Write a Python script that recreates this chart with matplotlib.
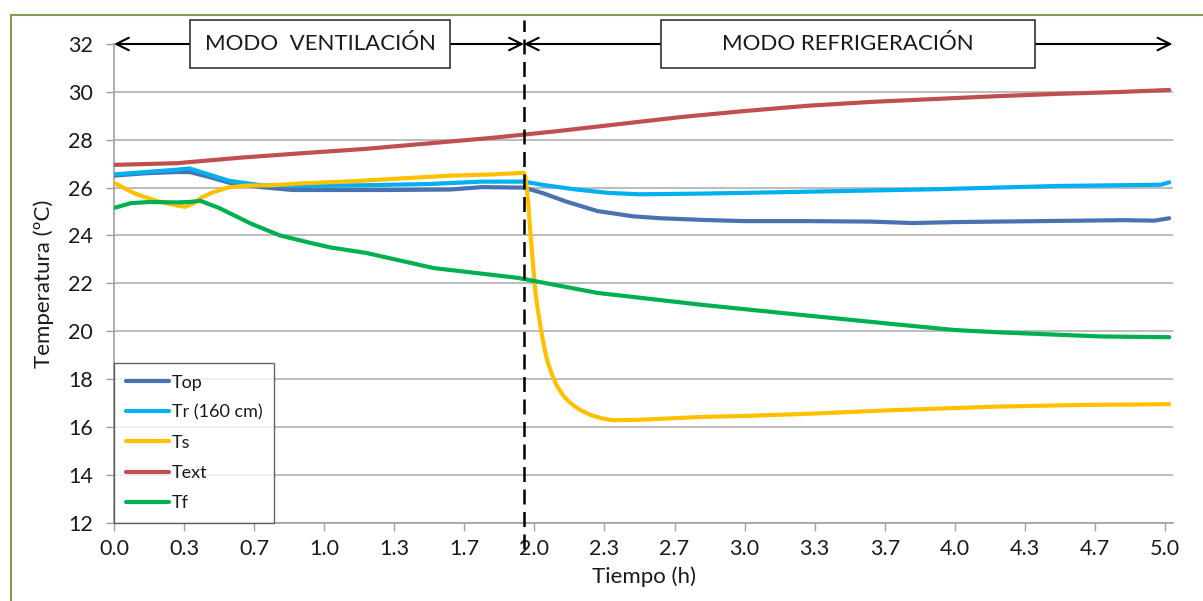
import matplotlib
matplotlib.use("Agg")
import matplotlib.pyplot as plt
from matplotlib.lines import Line2D

plt.rcParams['font.family'] = ['Lato', 'DejaVu Sans']

# ---------------- data (hours, degC) ----------------
t_text = [0, 0.3, 0.6, 0.9, 1.2, 1.5, 1.8, 2.1, 2.4, 2.7, 3.0, 3.3, 3.6, 3.9, 4.2, 4.5, 4.8, 5.02]
text = [26.95, 27.02, 27.25, 27.44, 27.62, 27.85, 28.08, 28.35, 28.65, 28.95, 29.2, 29.42,
        29.58, 29.7, 29.82, 29.92, 30.0, 30.08]

t_top = [0, 0.15, 0.3, 0.36, 0.45, 0.55, 0.7, 0.85, 1.0, 1.3, 1.6, 1.75, 1.95, 2.04, 2.15,
         2.3, 2.47, 2.6, 2.8, 3.0, 3.3, 3.6, 3.8, 4.0, 4.4, 4.8, 4.95, 5.02]
top = [26.5, 26.6, 26.65, 26.65, 26.45, 26.2, 26.02, 25.9, 25.9, 25.9, 25.92, 26.02, 26.0,
       25.77, 25.42, 25.02, 24.8, 24.72, 24.65, 24.6, 24.6, 24.58, 24.52, 24.56, 24.6, 24.64,
       24.62, 24.72]

t_tr = [0, 0.15, 0.3, 0.36, 0.45, 0.55, 0.7, 0.9, 1.2, 1.5, 1.75, 1.95, 2.05, 2.2, 2.35, 2.5,
        2.8, 3.0, 3.3, 3.6, 3.9, 4.2, 4.5, 4.8, 4.98, 5.02]
tr = [26.55, 26.65, 26.75, 26.8, 26.55, 26.28, 26.1, 26.07, 26.1, 26.15, 26.25, 26.25, 26.1,
      25.92, 25.78, 25.72, 25.75, 25.78, 25.83, 25.88, 25.93, 26.0, 26.07, 26.1, 26.12, 26.22]

t_ts = [0, 0.1, 0.2, 0.3, 0.34, 0.38, 0.42, 0.47, 0.54, 0.62, 0.75, 0.9, 1.1, 1.4, 1.6, 1.8,
        1.95, 1.957, 1.965, 1.973, 1.981, 1.989, 1.997, 2.005, 2.017, 2.029, 2.044, 2.06,
        2.083, 2.108, 2.138, 2.171, 2.215, 2.267, 2.32, 2.376, 2.5, 2.8, 3.0, 3.3, 3.7, 4.2,
        4.6, 5.02]
ts = [26.2, 25.75, 25.45, 25.25, 25.2, 25.35, 25.6, 25.8, 26.0, 26.08, 26.1, 26.18, 26.25,
      26.4, 26.5, 26.55, 26.62, 26.46, 25.9, 25.07, 24.1, 23.27, 22.4, 21.6, 20.85, 20.2,
      19.45, 18.8, 18.2, 17.7, 17.3, 17.0, 16.72, 16.5, 16.36, 16.28, 16.3, 16.42, 16.46,
      16.55, 16.7, 16.85, 16.92, 16.95]

t_tf = [0, 0.08, 0.17, 0.3, 0.36, 0.41, 0.5, 0.65, 0.79, 0.93, 1.03, 1.2, 1.52, 1.92, 2.3,
        2.8, 3.27, 3.74, 4.0, 4.22, 4.5, 4.7, 5.02]
tf = [25.15, 25.35, 25.4, 25.38, 25.4, 25.45, 25.15, 24.5, 24.0, 23.7, 23.5, 23.27, 22.64,
      22.23, 21.6, 21.1, 20.68, 20.27, 20.05, 19.95, 19.85, 19.78, 19.75]

series = [
    ("Top", t_top, top, "#4A72B0"),
    ("Tr (160 cm)", t_tr, tr, "#00B0F0"),
    ("Ts", t_ts, ts, "#FFC000"),
    ("Text", t_text, text, "#C0504D"),
    ("Tf", t_tf, tf, "#00B050"),
]

x_ticks = [i / 3 for i in range(16)]
x_ticklabels = ["0.0", "0.3", "0.7", "1.0", "1.3", "1.7", "2.0", "2.3", "2.7", "3.0",
                "3.3", "3.7", "4.0", "4.3", "4.7", "5.0"]
y_ticks = list(range(12, 33, 2))

t_switch = 1.95
mode_labels = ["MODO  VENTILACIÓN", "MODO REFRIGERACIÓN"]
box1 = (0.362, 1.6)
box2 = (2.6, 4.38)

# ---------------- figure ----------------
W, H = 1203, 601
fig = plt.figure(figsize=(W / 100, H / 100), dpi=100)
ax = fig.add_axes([114 / W, 1 - 522.7 / H, 1059 / W, (522.7 - 44) / H])

for lab, tt, vv, col in series:
    ax.plot(tt, vv, color=col, lw=3.0, label=lab, solid_capstyle='round', zorder=3)

ax.set_xlim(0, 5.038)
ax.set_ylim(12, 32)
ax.set_xticks(x_ticks)
ax.set_xticklabels(x_ticklabels)
ax.set_yticks(y_ticks)
ax.tick_params(axis='both', direction='out', length=6, width=1, color='#A0A0A0',
               labelsize=15.5, labelcolor='#1a1a1a')
ax.tick_params(axis='y', pad=9)
ax.tick_params(axis='x', pad=6)
ax.grid(axis='y', color='#B0B0B0', lw=1.2, zorder=0)
ax.set_axisbelow(True)
for s in ['top', 'right']:
    ax.spines[s].set_visible(False)
for s in ['left', 'bottom']:
    ax.spines[s].set_color('#A0A0A0')
    ax.spines[s].set_linewidth(1.2)

ax.set_xlabel("Tiempo (h)", fontsize=16, labelpad=5, color='#1a1a1a')
ax.set_ylabel("Temperatura (ºC)", fontsize=16, labelpad=10, color='#1a1a1a')

# dashed switch line
ax.plot([t_switch, t_switch], [10.9, 33.0], color='black', lw=1.8, ls=(0, (6, 3)),
        clip_on=False, zorder=5)

# arrows
ap = dict(arrowstyle='->,head_length=0.9,head_width=0.45', color='black', lw=1.5,
          shrinkA=0, shrinkB=0)
for x0, x1 in [(box1[0], 0.0), (box1[1], t_switch), (box2[0], t_switch), (box2[1], 5.035)]:
    ax.annotate("", xy=(x1, 32), xytext=(x0, 32), arrowprops=ap, annotation_clip=False)

# mode boxes
for (b0, b1), lab in zip([box1, box2], mode_labels):
    ax.add_patch(plt.Rectangle((b0, 31.0), b1 - b0, 2.0, fill=True, facecolor='white',
                               edgecolor='#333333', lw=1.2, clip_on=False, zorder=6))
    ax.text((b0 + b1) / 2, 32.0, lab, ha='center', va='center', fontsize=16,
            color='#1a1a1a', zorder=7)

leg = ax.legend(loc='lower left', bbox_to_anchor=(0, 0), borderaxespad=0, fontsize=13,
                frameon=True, fancybox=False, edgecolor='#404040', handlelength=2.4,
                handletextpad=0.15, labelspacing=0.78, borderpad=0.65)
leg.get_frame().set_linewidth(1.0)
for t in leg.get_texts():
    t.set_color('#1a1a1a')

# figure frame (left and top edges visible)
fig.add_artist(Line2D([11 / W, 11 / W], [0, 1 - 15 / H], color='#7F9A5A', lw=1.5))
fig.add_artist(Line2D([11 / W, 1], [1 - 15 / H, 1 - 15 / H], color='#7F9A5A', lw=1.5))

fig.savefig("out.png", dpi=100)
